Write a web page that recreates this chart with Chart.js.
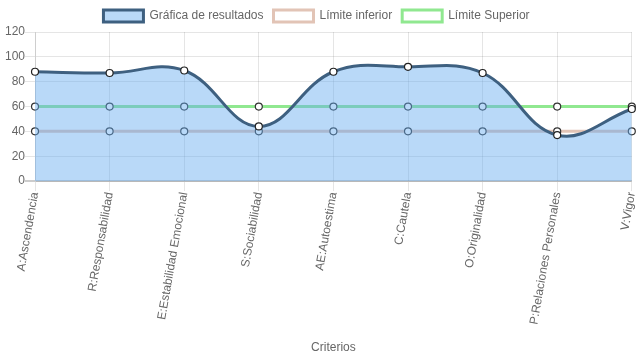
<!DOCTYPE html>
<html>
<head>
<meta charset="utf-8">
<script src="https://cdn.jsdelivr.net/npm/chart.js@4.4.0/dist/chart.umd.min.js"></script>
<style>
  body { margin: 0; background: #fff; }
  #wrap { width: 637px; height: 359px; }
</style>
</head>
<body>
<div id="wrap"><canvas id="chart"></canvas></div>
<script>
// Criterios evaluados
const categories = ['A:Ascendencia', 'R:Responsabilidad', 'E:Estabilidad Emocional', 'S:Sociabilidad',
  'AE:Autoestima', 'C:Cautela', 'O:Originalidad', 'P:Relaciones Personales', 'V:Vigor'];
const resultados = [88, 87, 89, 44, 88, 92, 87, 37, 58];
const limiteInferior = [40, 40, 40, 40, 40, 40, 40, 40, 40];
const limiteSuperior = [60, 60, 60, 60, 60, 60, 60, 60, 60];
const yTicks = [0, 20, 40, 60, 80, 100, 120];

Chart.defaults.font.family = "'Helvetica Neue', Helvetica, Arial, 'Liberation Sans', sans-serif";
Chart.defaults.font.size = 12;
Chart.defaults.color = '#666';

new Chart(document.getElementById('chart'), {
  type: 'line',
  data: {
    labels: categories,
    datasets: [
      {
        label: 'Gráfica de resultados',
        data: resultados,
        backgroundColor: 'rgba(100, 170, 240, 0.45)',
        borderColor: 'rgb(62, 96, 128)',
        borderWidth: 3,
        fill: 'origin',
        tension: 0.4,
        pointRadius: 3.5,
        pointBackgroundColor: '#fff',
        pointBorderColor: '#222',
        pointBorderWidth: 1.2
      },
      {
        label: 'Límite inferior',
        data: limiteInferior,
        backgroundColor: '#fff',
        borderColor: 'rgb(226, 196, 182)',
        borderWidth: 3,
        fill: false,
        tension: 0.4,
        pointRadius: 3.5,
        pointBackgroundColor: '#fff',
        pointBorderColor: '#333',
        pointBorderWidth: 1.2
      },
      {
        label: 'Límite Superior',
        data: limiteSuperior,
        backgroundColor: '#fff',
        borderColor: 'rgb(144, 232, 144)',
        borderWidth: 3,
        fill: false,
        tension: 0.4,
        pointRadius: 3.5,
        pointBackgroundColor: '#fff',
        pointBorderColor: '#333',
        pointBorderWidth: 1.2
      }
    ]
  },
  options: {
    responsive: true,
    maintainAspectRatio: false,
    animation: false,
    layout: { padding: { right: 4 } },
    plugins: {
      legend: {
        labels: { boxWidth: 40, padding: 10 }
      },
      tooltip: { enabled: false }
    },
    scales: {
      x: {
        title: { display: true, text: 'Criterios', padding: { top: 15, bottom: 4 } },
        ticks: { minRotation: 80, maxRotation: 80, autoSkip: false, padding: 0 },
        grid: { color: 'rgba(0,0,0,0.1)', tickLength: 10 },
        border: { color: 'rgba(0,0,0,0.1)' },
        afterFit: (s) => { s.paddingRight = 0; }
      },
      y: {
        min: 0,
        max: 120,
        afterBuildTicks: (axis) => { axis.ticks = yTicks.map(v => ({ value: v })); },
        ticks: { padding: 0 },
        afterFit: (s) => { s.width += 5; },
        grid: {
          tickLength: 10,
          color: (ctx) => ctx.tick && ctx.tick.value === 0 ? 'rgba(0,0,0,0.2)' : 'rgba(0,0,0,0.1)',
          lineWidth: (ctx) => ctx.tick && ctx.tick.value === 0 ? 2 : 1
        },
        border: { color: 'rgba(0,0,0,0.1)' }
      }
    }
  }
});
</script>
</body>
</html>
